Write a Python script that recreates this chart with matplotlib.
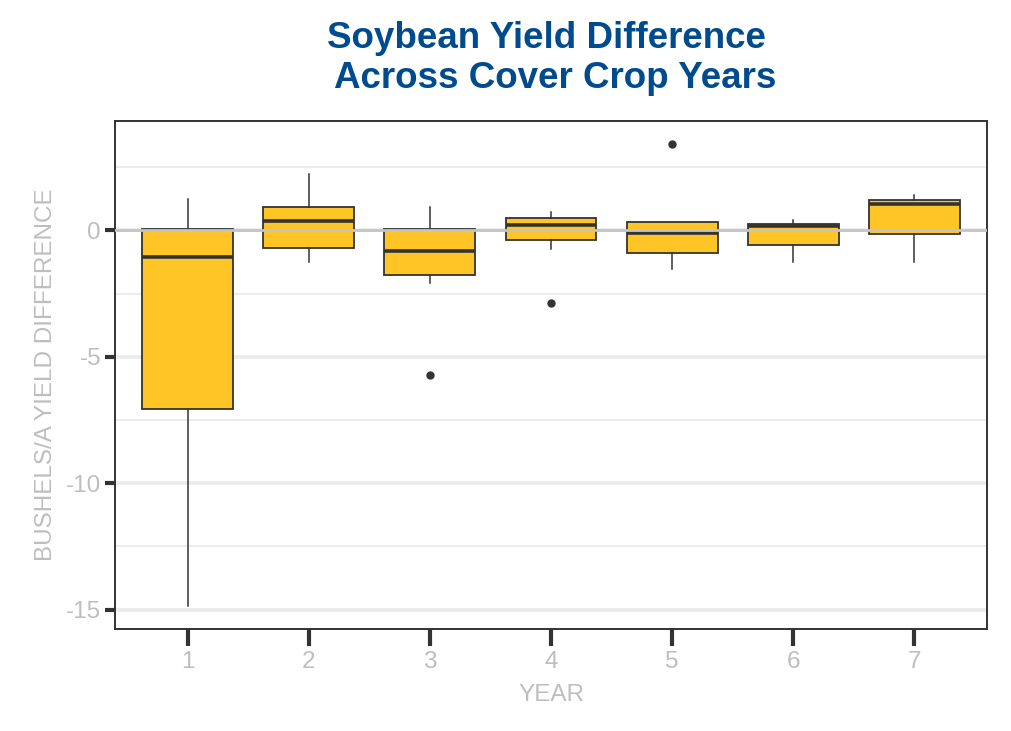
import numpy as np
import matplotlib.pyplot as plt

plt.rcParams['font.family'] = ['Liberation Sans', 'DejaVu Sans']

# box statistics
years = ['1', '2', '3', '4', '5', '6', '7']
q1 = [-7.08, -0.70, -1.78, -0.36, -0.91, -0.59, -0.13]
med = [-1.05, 0.38, -0.83, 0.21, -0.09, 0.17, 1.04]
q3 = [0.06, 0.94, 0.06, 0.51, 0.33, 0.26, 1.20]
whislo = [-14.86, -1.24, -2.08, -0.74, -1.51, -1.24, -1.24]
whishi = [1.24, 2.23, 0.93, 0.74, 0.33, 0.42, 1.39]
fliers = [[], [], [-5.73], [-2.87], [3.43], [], []]

stats = []
for i in range(len(years)):
    stats.append(dict(label=years[i], q1=q1[i], med=med[i], q3=q3[i],
                      whislo=whislo[i], whishi=whishi[i], fliers=fliers[i]))

fig = plt.figure(figsize=(10.12, 7.31), dpi=100)
ax = fig.add_axes([0.1136, 0.1395, 0.8617, 0.695])

# gridlines
for y in [-15, -10, -5, 0]:
    ax.axhline(y, color='#EBEBEB', lw=2.6, zorder=0)
for y in [-12.5, -7.5, -2.5, 2.5]:
    ax.axhline(y, color='#EBEBEB', lw=1.3, zorder=0)

pos = np.arange(1, len(years) + 1)
ax.bxp(stats, positions=pos, widths=0.75, patch_artist=True, showcaps=False,
       boxprops=dict(facecolor='#FFC425', edgecolor='#333333', lw=1.3),
       medianprops=dict(color='#333333', lw=2.6),
       whiskerprops=dict(color='#333333', lw=1.1),
       flierprops=dict(marker='o', markerfacecolor='#333333', markeredgecolor='#333333',
                       markersize=5))

ax.axhline(0, color='#C4C4C4', lw=2, zorder=5)

ax.set_xlim(0.4, 7.6)
ax.set_ylim(-15.77, 4.33)
ax.set_yticks([-15, -10, -5, 0])
ax.set_yticklabels(['-15', '-10', '-5', '0'])
ax.set_xticks(pos)
ax.set_xticklabels(years)

ax.tick_params(axis='y', length=7, width=3, color='#333333', labelcolor='#BEBEBE',
               labelsize=17.5, pad=3)
ax.tick_params(axis='x', length=12, width=3, color='#333333', labelcolor='#BEBEBE',
               labelsize=17.5, pad=4)
for s in ax.spines.values():
    s.set_color('#333333')
    s.set_linewidth(1.4)

ax.set_xlabel('YEAR', color='#BEBEBE', fontsize=17.5, labelpad=8)
ax.set_ylabel('BUSHELS/A YIELD DIFFERENCE', color='#BEBEBE', fontsize=17.5, labelpad=6)

fig.text(546 / 1012, 1 - 38 / 731, 'Soybean Yield Difference',
         ha='center', va='center', fontsize=26.5, fontweight='bold', color='#004B8D')
fig.text(555 / 1012, 1 - 78 / 731, 'Across Cover Crop Years',
         ha='center', va='center', fontsize=26.5, fontweight='bold', color='#004B8D')

fig.savefig('out.png', dpi=100)
